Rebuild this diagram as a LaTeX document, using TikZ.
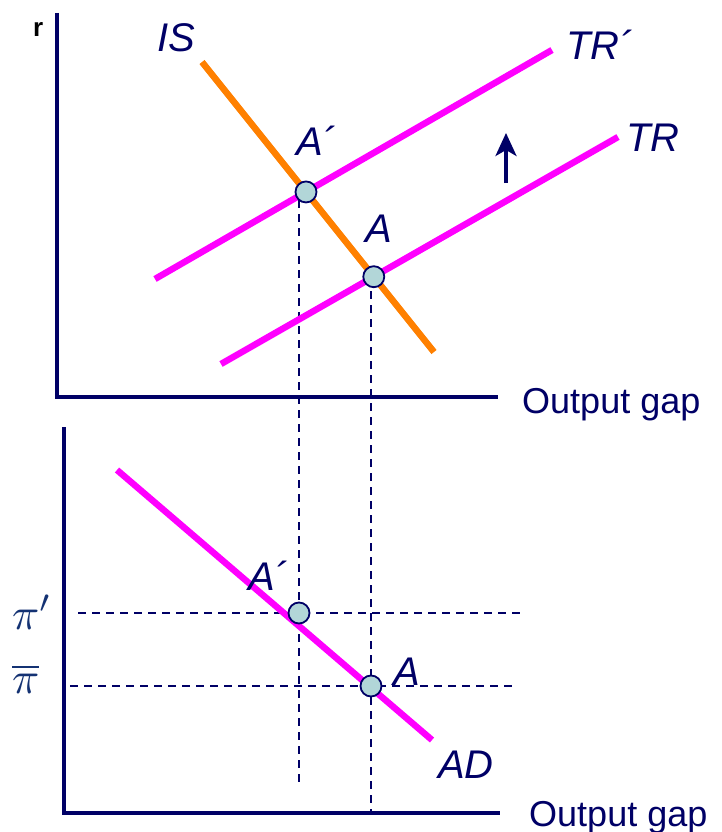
\documentclass[tikz,border=0pt]{standalone}
\usepackage{fontspec}
\setmainfont{Liberation Sans}
\usetikzlibrary{arrows.meta}
\definecolor{navy}{RGB}{0,0,102}
\definecolor{mag}{RGB}{255,0,255}
\definecolor{orng}{RGB}{255,128,0}
\definecolor{dotfill}{RGB}{178,214,216}
\definecolor{piblue}{RGB}{20,50,115}
\tikzset{
  axis/.style={draw=navy,line width=4pt},
  curve/.style={line width=6.5pt},
  guide/.style={draw=navy,line width=2.2pt,dash pattern=on 8pt off 6pt},
  dotnode/.style={circle,draw=navy,fill=dotfill,line width=1.8pt,minimum size=21pt,inner sep=0pt},
  lab/.style={text=navy,font=\fontsize{40}{44}\selectfont\itshape,inner sep=0pt,anchor=base west},
  axlab/.style={text=navy,font=\fontsize{36}{40}\selectfont,inner sep=0pt,anchor=base west},
  pilab/.style={text=piblue,inner sep=0pt,anchor=base west},
}
\begin{document}
\begin{tikzpicture}[x=1pt,y=-1pt]
\useasboundingbox (0,0) rectangle (721,832);
% coordinates
\coordinate (top0) at (57,13);
\coordinate (orig1) at (57,397);
\coordinate (xend1) at (498,397);
\coordinate (top2) at (64,427);
\coordinate (orig2) at (64,813);
\coordinate (xend2) at (500,813);
\coordinate (is1) at (202,62);
\coordinate (is2) at (434,352);
\coordinate (trp1) at (155,279);
\coordinate (trp2) at (552,50);
\coordinate (tr1) at (221,364);
\coordinate (tr2) at (618,137);
\coordinate (ad1) at (117,470);
\coordinate (ad2) at (432,740);
\coordinate (v1top) at (299,200);
\coordinate (v1bot) at (299,783);
\coordinate (v2top) at (371,277);
\coordinate (v2bot) at (371,813);
\coordinate (h1l) at (78,613);
\coordinate (h1r) at (520,613);
\coordinate (h2l) at (70,686);
\coordinate (h2r) at (513,686);
\coordinate (arrb) at (506,183);
\coordinate (arrt) at (506,133);
% guides
\draw[guide] (v1top) -- (v1bot);
\draw[guide] (v2top) -- (v2bot);
\draw[guide] (h1l) -- (h1r);
\draw[guide] (h2l) -- (h2r);
% axes
\draw[axis] (top0) -- (orig1) -- (xend1);
\draw[axis] (top2) -- (orig2) -- (xend2);
% curves
\draw[curve,mag] (trp1) -- (trp2);
\draw[curve,mag] (tr1) -- (tr2);
\draw[curve,orng] (is1) -- (is2);
\draw[curve,mag] (ad1) -- (ad2);
% arrow
\draw[navy,line width=3.5pt,-{Stealth[length=23pt,width=21pt,inset=6pt]}] (arrb) -- (arrt);
% dots
\node[dotnode] (Ap) at (intersection of is1--is2 and trp1--trp2) {};
\node[dotnode] (A) at (intersection of is1--is2 and tr1--tr2) {};
\node[dotnode] (Bp) at (299,613) {};
\node[dotnode] (B) at (371,686) {};
% labels
\node[text=black,font=\fontsize{26}{28}\selectfont\bfseries,inner sep=0pt,anchor=base west] (r) at (33,37) {r};
\node[lab] (IS) at (157,52) {IS};
\node[lab] (TRp) at (566,60) {TR´};
\node[lab] (TR) at (626,151) {TR};
\node[lab] (Aplab) at (296,155) {A´};
\node[lab] (Alab) at (365,242) {A};
\node[lab] (Bplab) at (248,590) {A´};
\node[lab] (Blab) at (393,685) {A};
\node[lab] (AD) at (438,778) {AD};
\node[axlab] (og1) at (522,413) {Output gap};
\node[axlab] (og2) at (529,826) {Output gap};
\node[pilab] (pip) at (12,629) {\scalebox{4.5}{$\pi'$}};
\node[pilab] (pib) at (12,693) {\scalebox{4.5}{$\overline{\pi}$}};
\end{tikzpicture}
\end{document}
